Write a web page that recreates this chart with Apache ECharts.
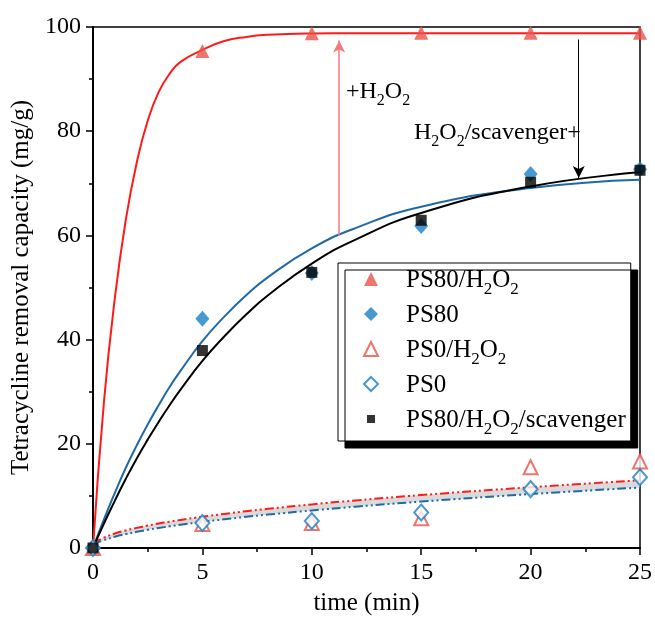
<!DOCTYPE html>
<html>
<head>
<meta charset="utf-8">
<script src="https://cdn.jsdelivr.net/npm/echarts@6/dist/echarts.min.js"></script>
<style>
  html, body { margin: 0; padding: 0; background: #fff; }
  #container { width: 655px; height: 621px; }
</style>
</head>
<body>
<div id="container"></div>
<script>
var dom = document.getElementById('container');
var myChart = echarts.init(dom, null, { renderer: 'canvas' });

// measured points
const times = [0, 5, 10, 15, 20, 25];
const ps80H2O2 = [0, 95.4, 98.8, 98.9, 98.9, 98.9];
const ps80 = [0, 44.0, 52.8, 61.8, 71.8, 72.7];
const ps0H2O2 = [0, 4.6, 4.8, 5.7, 15.5, 16.6];
const ps0 = [0, 4.8, 5.2, 6.8, 11.3, 13.6];
const ps80Scav = [0, 37.9, 52.9, 62.9, 70.2, 72.5];

// fitted curves
const fitT = [0, 0.5, 1, 1.5, 2, 2.5, 3, 3.5, 4, 5, 6, 7, 8, 10, 12, 15, 20, 25];
const fitPS80H2O2 = [0, 28, 48, 63, 74, 82, 87.5, 91, 93.3, 95.6, 97.3, 98.1, 98.5, 98.75, 98.8, 98.8, 98.8, 98.8];
const fitPS80 = [0, 5.5, 10.6, 15.4, 19.7, 23.7, 27.4, 30.9, 34.0, 39.7, 44.4, 48.5, 52.0, 57.5, 61.4, 65.5, 69.1, 70.7];
const fitScav = [0, 4.7, 9.1, 13.3, 17.2, 20.8, 24.2, 27.4, 30.4, 35.9, 40.6, 44.8, 48.5, 54.6, 59.2, 64.3, 69.4, 72.1];
const fitPS0H2O2 = [0.9, 1.98, 2.77, 3.37, 3.86, 4.30, 4.69, 5.06, 5.39, 6.0, 6.54, 7.06, 7.52, 8.37, 9.13, 10.16, 11.66, 13.0];
const fitPS0 = [0.7, 1.50, 2.16, 2.67, 3.10, 3.49, 3.84, 4.16, 4.46, 5.0, 5.51, 5.98, 6.41, 7.20, 7.93, 8.91, 10.35, 11.6];

const xTicks = [0, 5, 10, 15, 20, 25];
const yTicks = [0, 20, 40, 60, 80, 100];

const FONT = 'Liberation Serif';
const RED = '#e8524a';
const BLUE = '#1a80c4';

const pairs = (xs, ys) => xs.map((x, i) => [x, ys[i]]);

function richName(name) {
  const body = name.split('H2O2').map(p => p ? '{n|' + p + '}' : '').join('{n|H}{s|2}{n|O}{s|2}');
  // rows without a subscript get an empty one so every row has the same height
  return '{g| }' + body + (name.includes('H2O2') ? '' : '{s| }');
}
const legendRich = {
  g: { width: 23 },
  n: { fontFamily: FONT, fontSize: 25, color: '#000', lineHeight: 28, verticalAlign: 'bottom' },
  s: { fontFamily: FONT, fontSize: 17, color: '#000', lineHeight: 20, verticalAlign: 'bottom', padding: [0, 0, -5, 0] }
};
const noteRich = {
  n: { fontFamily: FONT, fontSize: 24, color: '#000', lineHeight: 28, verticalAlign: 'bottom' },
  s: { fontFamily: FONT, fontSize: 16, color: '#000', lineHeight: 20, verticalAlign: 'bottom', padding: [0, 0, -5, 0] }
};

function dashSeries(name, ys, color) {
  return {
    name: name, type: 'line', data: pairs(fitT, ys), smooth: true, showSymbol: false,
    lineStyle: { color: color, width: 2, type: [9, 3, 2, 3, 2, 3] }, z: 3
  };
}

// grey band between the two lower fits (upper edge forward, lower edge back)
const bandPoly = pairs(fitT, fitPS0H2O2).concat(pairs(fitT, fitPS0).reverse());

option = {
  animation: false,
  backgroundColor: '#fff',
  grid: { left: 93, right: 13, top: 27, bottom: 69, show: true, borderColor: '#000', borderWidth: 1.5 },
  xAxis: {
    type: 'value', min: 0, max: 25, interval: 5,
    name: 'time (min)', nameLocation: 'middle', nameGap: 43,
    nameTextStyle: { fontFamily: FONT, fontSize: 25, color: '#000' },
    axisLine: { lineStyle: { color: '#000', width: 2 } },
    axisTick: { inside: false, length: 7, lineStyle: { color: '#000', width: 1.5 } },
    minorTick: { show: true, splitNumber: 2, length: 4, lineStyle: { color: '#000', width: 1.5 } },
    axisLabel: { fontFamily: FONT, fontSize: 24, color: '#000', margin: 13,
      formatter: v => xTicks.includes(v) ? String(v) : '' },
    splitLine: { show: false }
  },
  yAxis: {
    type: 'value', min: 0, max: 100, interval: 20,
    name: 'Tetracycline removal capacity (mg/g)', nameLocation: 'middle', nameGap: 54,
    nameTextStyle: { fontFamily: FONT, fontSize: 25, color: '#000' },
    axisLine: { show: true, lineStyle: { color: '#000', width: 2 } },
    axisTick: { show: true, inside: false, length: 7, lineStyle: { color: '#000', width: 1.5 } },
    minorTick: { show: true, splitNumber: 2, length: 4, lineStyle: { color: '#000', width: 1.5 } },
    axisLabel: { fontFamily: FONT, fontSize: 24, color: '#000', margin: 12,
      formatter: v => yTicks.includes(v) ? String(v) : '' },
    splitLine: { show: false }
  },
  legend: {
    orient: 'vertical', left: 338, top: 263,
    data: ['PS80/H2O2', 'PS80', 'PS0/H2O2', 'PS0',
      { name: 'PS80/H2O2/scavenger', icon: 'path://M0,0M14,14M3,3h8v8h-8z' }],
    itemWidth: 14, itemHeight: 14, itemGap: 5,
    padding: [5, 5, 3, 25],
    backgroundColor: '#fff', borderColor: '#000', borderWidth: 1,
    shadowColor: '#000', shadowBlur: 0, shadowOffsetX: 7, shadowOffsetY: 7,
    formatter: richName,
    textStyle: { rich: legendRich }
  },
  graphic: [
    { type: 'text', left: 346, top: 80, z: 10,
      style: { text: '{n|+H}{s|2}{n|O}{s|2}', rich: noteRich, fill: '#000' } },
    { type: 'text', left: 414, top: 121, z: 10,
      style: { text: '{n|H}{s|2}{n|O}{s|2}{n|/scavenger+}', rich: noteRich, fill: '#000' } }
  ],
  series: [
    { name: 'band', type: 'custom', silent: true, z: 1, data: [0],
      renderItem: function (params, api) {
        return { type: 'polygon', shape: { points: bandPoly.map(p => api.coord(p)) },
          style: { fill: '#dadada' } };
      } },
    dashSeries('fit PS0/H2O2', fitPS0H2O2, '#ff1a1a'),
    dashSeries('fit PS0', fitPS0, '#1f6aa5'),
    { name: 'fit PS80/H2O2', type: 'line', data: pairs(fitT, fitPS80H2O2), smooth: true, showSymbol: false,
      lineStyle: { color: '#ff1a1a', width: 2 }, z: 3,
      markLine: {
        silent: true, symbol: ['none', 'arrow'], symbolSize: [9, 12], label: { show: false },
        data: [
          [{ coord: [11.25, 60], lineStyle: { color: '#f47a7a', width: 1.5, type: 'solid' } }, { coord: [11.25, 97.4] }],
          [{ coord: [22.2, 97.6], lineStyle: { color: '#000', width: 1, type: 'solid' } }, { coord: [22.2, 71.0] }]
        ]
      } },
    { name: 'fit PS80', type: 'line', data: pairs(fitT, fitPS80), smooth: true, showSymbol: false,
      lineStyle: { color: '#1f6aa5', width: 2 }, z: 3 },
    { name: 'fit scav', type: 'line', data: pairs(fitT, fitScav), smooth: true, showSymbol: false,
      lineStyle: { color: '#000', width: 2 }, z: 3 },
    { name: 'PS80/H2O2', type: 'scatter', data: pairs(times, ps80H2O2), symbol: 'triangle', symbolSize: 14,
      itemStyle: { color: RED }, z: 5 },
    { name: 'PS80', type: 'scatter', data: pairs(times, ps80), symbol: 'diamond', symbolSize: [14, 16],
      itemStyle: { color: BLUE }, z: 5 },
    { name: 'PS0/H2O2', type: 'scatter', data: pairs(times, ps0H2O2), symbol: 'triangle', symbolSize: 14,
      itemStyle: { color: '#fff', borderColor: RED, borderWidth: 2 }, z: 5 },
    { name: 'PS0', type: 'scatter', data: pairs(times, ps0), symbol: 'diamond', symbolSize: [14, 16],
      itemStyle: { color: '#fff', borderColor: BLUE, borderWidth: 2 }, z: 6 },
    { name: 'PS80/H2O2/scavenger', type: 'scatter', data: pairs(times, ps80Scav), symbol: 'rect', symbolSize: 11,
      itemStyle: { color: '#000' }, z: 6 }
  ]
};

if (option && typeof option === 'object') {
  myChart.setOption(option);
}
window.addEventListener('resize', myChart.resize);
</script>
</body>
</html>
